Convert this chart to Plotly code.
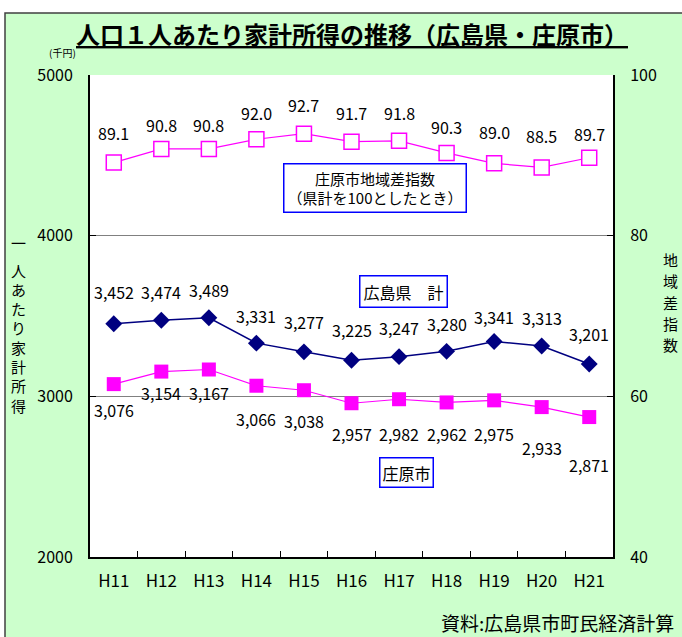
import plotly.graph_objects as go

# ---- data ----
years = ["H11", "H12", "H13", "H14", "H15", "H16", "H17", "H18", "H19", "H20", "H21"]
hiroshima = [3452, 3474, 3489, 3331, 3277, 3225, 3247, 3280, 3341, 3313, 3201]
shobara = [3076, 3154, 3167, 3066, 3038, 2957, 2982, 2962, 2975, 2933, 2871]
index_vals = [89.1, 90.8, 90.8, 92.0, 92.7, 91.7, 91.8, 90.3, 89.0, 88.5, 89.7]

# label placement (pixel offsets, style only)
hir_dy = [32, 28, 28, 27, 30, 30, 29, 27, 25, 28, 30]
sho_dy = [-26, -21, -23, -33, -31, -31, -35, -32, -34, -41, -48]
idx_dy = [30, 24, 24, 26, 29, 29, 28, 26, 31, 31, 24]

W, H = 682, 637
L, R, T, B = 90, 613, 75, 557  # plot area in pixels

def px(x):
    return (x - L) / (R - L)

def py(y):
    return (B - y) / (B - T)

FONT = "Noto Sans CJK JP"
fig = go.Figure()

fig.add_trace(go.Scatter(
    x=years, y=index_vals, yaxis="y2", mode="lines+markers",
    line=dict(color="#FF00FF", width=1.2),
    marker=dict(symbol="square", size=15, color="white",
                line=dict(color="#FF00FF", width=1.5)),
    showlegend=False))
fig.add_trace(go.Scatter(
    x=years, y=hiroshima, mode="lines+markers",
    line=dict(color="#000080", width=1.5),
    marker=dict(symbol="diamond", size=13, color="#000080"),
    showlegend=False))
fig.add_trace(go.Scatter(
    x=years, y=shobara, mode="lines+markers",
    line=dict(color="#FF00FF", width=1.2),
    marker=dict(symbol="square", size=14, color="#FF00FF"),
    showlegend=False))

ann = []
for i, yr in enumerate(years):
    ann.append(dict(x=yr, y=hiroshima[i], xref="x", yref="y", text=f"{hiroshima[i]:,}",
                    showarrow=False, yshift=hir_dy[i], font=dict(size=16, color="black", family=FONT)))
    ann.append(dict(x=yr, y=shobara[i], xref="x", yref="y", text=f"{shobara[i]:,}",
                    showarrow=False, yshift=sho_dy[i], font=dict(size=16, color="black", family=FONT)))
    ann.append(dict(x=yr, y=index_vals[i], xref="x", yref="y2", text=f"{index_vals[i]:.1f}",
                    showarrow=False, yshift=idx_dy[i], font=dict(size=16, color="black", family=FONT)))

def pann(x, y, text, size, **kw):
    d = dict(x=px(x), y=py(y), xref="paper", yref="paper", text=text, showarrow=False,
             xanchor="center", yanchor="middle",
             font=dict(size=size, color="black", family=FONT))
    d.update(kw)
    ann.append(d)

# title
pann(352, 33, "<b><u>人口１人あたり家計所得の推移（広島県・庄原市）</u></b>", 24)
# unit
pann(62, 53, "(千円)", 10)
# axis titles (one character per line)
left_title = "一人あたり家計所得"
left_y = [242, 270, 289, 308, 327, 347, 366, 386, 405]
for ch, yy in zip(left_title, left_y):
    pann(18, yy, ch, 15)
right_title = "地域差指数"
right_y = [259, 280, 302, 323, 344]
for ch, yy in zip(right_title, right_y):
    pann(670, yy, ch, 15)
# legend boxes
box = dict(bgcolor="white", bordercolor="#0000FF", borderwidth=1.5)
pann(375, 188, "庄原市地域差指数<br>（県計を100としたとき）", 15, borderpad=3, **box)
pann(403, 291, "広島県　計", 16, borderpad=3, **box)
pann(406, 472, "庄原市", 16, borderpad=2, **box)
# source
pann(676, 622, "資料:広島県市町民経済計算", 19, xanchor="right")

shapes = [
    dict(type="rect", xref="paper", yref="paper", layer="below",
         x0=px(5), x1=px(700), y0=py(660), y1=py(13),
         fillcolor="#CCFFCC", line=dict(color="#404040", width=1.5)),
    dict(type="rect", xref="paper", yref="paper", layer="below",
         x0=0, x1=1, y0=0, y1=1, fillcolor="white", line=dict(width=0)),
]

fig.update_layout(
    width=W, height=H,
    margin=dict(l=L, r=W - R, t=T, b=H - B),
    paper_bgcolor="white", plot_bgcolor="rgba(0,0,0,0)",
    font=dict(family=FONT, size=16, color="black"),
    annotations=ann, shapes=shapes,
    xaxis=dict(type="category", showline=True, linecolor="black", linewidth=2,
               ticks="inside", tickson="boundaries", ticklen=6, tickcolor="black",
               showgrid=False, tickfont=dict(size=17), ticklabelstandoff=8,
               range=[-0.5, 10.5]),
    yaxis=dict(range=[2000, 5000], dtick=1000, showline=True, linecolor="black", linewidth=2,
               ticks="inside", ticklen=6, tickcolor="black", showgrid=True,
               gridcolor="#808080", gridwidth=1, zeroline=False,
               tickfont=dict(size=16), ticklabelstandoff=12),
    yaxis2=dict(range=[40, 100], dtick=20, overlaying="y", side="right", showline=True,
                linecolor="black", linewidth=2, ticks="inside", ticklen=6, tickcolor="black",
                showgrid=False, zeroline=False, tickfont=dict(size=16), ticklabelstandoff=12),
)

fig.write_html("out.html")
